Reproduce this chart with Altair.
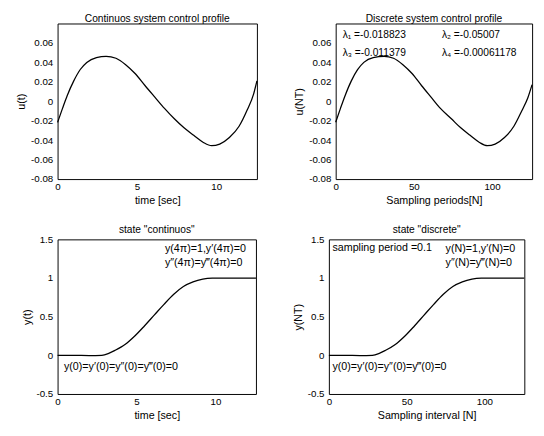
import altair as alt
import pandas as pd

FONT = "Liberation Sans"

# ---- continuous control u(t) ----
t_u = [0.0, 0.31, 0.61, 1.02, 1.43, 1.84, 2.45, 3.06, 3.68, 4.29, 4.9, 5.52, 6.13,
       6.74, 7.36, 7.97, 8.58, 9.19, 9.71, 10.22, 10.83, 11.44, 11.95, 12.36, 12.566]
u_t = [-0.0217, -0.0073, 0.006, 0.021, 0.0327, 0.040, 0.045, 0.0463, 0.0443, 0.0377,
       0.0283, 0.016, 0.0043, -0.0073, -0.018, -0.0273, -0.035, -0.0423, -0.0457,
       -0.044, -0.0373, -0.0257, -0.009, 0.0077, 0.021]

# ---- discrete control u(NT) ----
n_u = [0, 3, 6, 10, 14, 18, 24, 31, 37, 43, 49, 55, 61, 67, 74, 80, 86, 92, 97,
       102, 108, 114, 119, 123, 125.6]
u_n = [-0.0215, -0.0075, 0.0058, 0.021, 0.0325, 0.040, 0.045, 0.0462, 0.0443, 0.0377,
       0.0283, 0.016, 0.0043, -0.0073, -0.018, -0.0273, -0.035, -0.0423, -0.0457,
       -0.044, -0.0373, -0.0257, -0.010, 0.004, 0.017]

# ---- continuous state y(t) ----
t_y = [0.0, 1.0, 2.0, 2.8, 3.24, 3.65, 4.27, 4.89, 5.5, 6.12, 6.74, 7.36, 7.97,
       8.58, 9.2, 9.8, 10.4, 11.0, 12.566]
y_t = [0.0, 0.0, -0.003, 0.0, 0.025, 0.065, 0.14, 0.25, 0.38, 0.52, 0.66, 0.79,
       0.89, 0.95, 0.985, 0.998, 1.0, 1.0, 1.0]

# ---- discrete state y(NT) ----
n_y = [0, 10, 20, 28, 32.4, 36.5, 42.7, 48.9, 55, 61.2, 67.4, 73.6, 79.7, 85.8,
       92, 98, 104, 110, 125.6]
y_n = [0.0, 0.0, -0.003, 0.0, 0.025, 0.065, 0.14, 0.25, 0.38, 0.52, 0.66, 0.79,
       0.89, 0.95, 0.985, 0.998, 1.0, 1.0, 1.0]

# ---- annotations ----
lam_x = [4.5, 68, 4.5, 68]
lam_y = [0.0686, 0.0686, 0.0495, 0.0495]
lam_txt = ["λ₁ =-0.018823", "λ₂ =-0.05007", "λ₃ =-0.011379", "λ₄ =-0.00061178"]

c_x = [6.8, 6.8, 0.4]
c_y = [1.37, 1.19, -0.15]
c_txt = ["y(4π)=1,y′(4π)=0", "y″(4π)=y‴(4π)=0", "y(0)=y′(0)=y″(0)=y‴(0)=0"]

d_x = [2.3, 75, 75, 2.3]
d_y = [1.39, 1.37, 1.19, -0.15]
d_txt = ["sampling period =0.1", "y(N)=1,y′(N)=0", "y″(N)=y‴(N)=0",
         "y(0)=y′(0)=y″(0)=y‴(0)=0"]

u_ticks = [-0.08, -0.06, -0.04, -0.02, 0, 0.02, 0.04, 0.06]
y_ticks = [-0.5, 0, 0.5, 1, 1.5]
t_ticks = [0, 5, 10]
n_ticks = [0, 50, 100]


def panel(xs, ys, xdom, ydom, xticks, yticks, title, xtitle, ytitle,
          ax, ay, atxt, w, h, afs):
    df = pd.DataFrame({"x": xs, "y": ys})
    xsc = alt.Scale(domain=xdom, nice=False, zero=False)
    ysc = alt.Scale(domain=ydom, nice=False, zero=False)
    xaxis = alt.Axis(values=xticks, title=xtitle, labelExpr="'' + datum.value",
                     labelOverlap=False, labelFlush=False, labelPadding=3,
                     titlePadding=3)
    yaxis = alt.Axis(values=yticks, title=ytitle, labelExpr="'' + datum.value",
                     labelOverlap=False, labelFlush=False, labelPadding=5,
                     titlePadding=4)
    enc_x = alt.X("x:Q", scale=xsc, axis=xaxis)
    enc_y = alt.Y("y:Q", scale=ysc, axis=yaxis)
    line = alt.Chart(df).mark_line(color="black", strokeWidth=1.3,
                                   interpolate="monotone").encode(x=enc_x, y=enc_y)
    tdf = pd.DataFrame({"x": ax, "y": ay, "t": atxt})
    txt = alt.Chart(tdf).mark_text(align="left", baseline="middle", font=FONT,
                                   fontSize=afs, color="black").encode(
        x=enc_x, y=enc_y, text="t:N")
    return alt.layer(line, txt).properties(width=w, height=h, title=title)


p1 = panel(t_u, u_t, [0, 12.566], [-0.08, 0.08], t_ticks, u_ticks,
           "Continuos system control profile", "time [sec]", "u(t)",
           [], [], [], 205, 160, 10.5)
p2 = panel(n_u, u_n, [0, 125.66], [-0.08, 0.08], n_ticks, u_ticks,
           "Discrete system control profile", "Sampling periods[N]", "u(NT)",
           lam_x, lam_y, lam_txt, 202, 160, 10.5)
p3 = panel(t_y, y_t, [0, 12.566], [-0.5, 1.5], t_ticks, y_ticks,
           'state "continuos"', "time [sec]", "y(t)",
           c_x, c_y, c_txt, 204, 159, 11)
p4 = panel(n_y, y_n, [0, 125.66], [-0.5, 1.5], n_ticks, y_ticks,
           'state "discrete"', "Sampling interval [N]", "y(NT)",
           d_x, d_y, d_txt, 201, 159, 11)

chart = alt.vconcat(
    alt.hconcat(p1, p2, spacing=33),
    alt.hconcat(p3, p4, spacing=33),
    spacing=19,
).properties(
    padding={"left": 7, "top": 0, "right": 0, "bottom": 0},
    background="white",
).configure_view(
    stroke="black", strokeWidth=1
).configure_axis(
    domain=False, grid=False, ticks=False,
    labelFont=FONT, labelFontSize=10, labelColor="black",
    titleFont=FONT, titleFontSize=11, titleFontWeight="normal", titleColor="black"
).configure_title(
    font=FONT, fontSize=10.5, fontWeight="normal", color="black", offset=-1
)

chart.save("out.html", embed_options={"renderer": "svg", "actions": False})
